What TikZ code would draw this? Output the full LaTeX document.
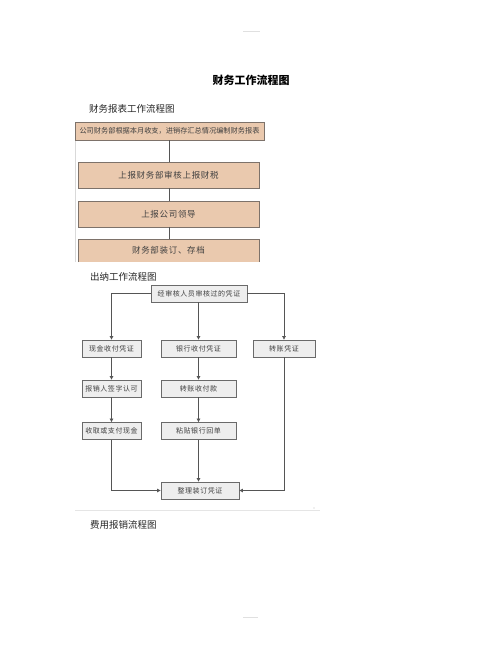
\documentclass[tikz,border=0pt]{standalone}
\usepackage{fontspec}
\setmainfont{Noto Sans CJK SC}
\newfontfamily\cjk{Noto Sans CJK SC}
\newfontfamily\cjkwide{Noto Sans CJK SC}[LetterSpace=8]
\usetikzlibrary{arrows.meta}
\definecolor{tanfill}{HTML}{EAC9AE}
\definecolor{tanline}{HTML}{7D726A}
\definecolor{grayfill}{HTML}{EEEEEE}
\definecolor{grayline}{HTML}{6A6A6A}
\definecolor{conn}{HTML}{555555}
\tikzset{
  tanbox/.style={draw=tanline, fill=tanfill, line width=0.8pt, inner sep=0pt, font=\cjkwide\fontsize{8.5}{9}\selectfont, text=black!75},
  graybox/.style={draw=grayline, fill=grayfill, line width=0.8pt, inner sep=0pt, font=\cjkwide\fontsize{7}{8}\selectfont, text=black!75},
  plain/.style={draw=conn, line width=0.7pt},
  arr/.style={draw=conn, line width=0.7pt, -{Triangle[length=3.5pt,width=3.5pt]}},
  sectlabel/.style={anchor=west, inner sep=0pt, font=\cjk\fontsize{9.5}{10}\selectfont, text=black!85},
}
\begin{document}
\begin{tikzpicture}[x=1pt,y=-1pt]
\useasboundingbox[fill=white] (0,0) rectangle (502,649);
% faint page marks
\draw[black!12, line width=0.5pt] (243,31) -- (260,31);
\draw[black!12, line width=0.5pt] (243,617) -- (258,617);
% title
\node[font=\cjk\bfseries\fontsize{11}{12}\selectfont, inner sep=0pt] (title) at (251,80) {财务工作流程图};
% section 1
\node[sectlabel] (lab1) at (89,109) {财务报表工作流程图};
\draw[black!15, line width=0.5pt] (75,140) -- (75,262);
\node[tanbox, minimum width=189pt, minimum height=18pt, font=\cjk\fontsize{7.2}{8}\selectfont] (b1) at (169.5,131) {公司财务部根据本月收支，进销存汇总情况编制财务报表};
\node[tanbox, minimum width=181pt, minimum height=26pt] (b2) at (168.5,175) {上报财务部审核上报财税};
\node[tanbox, minimum width=181pt, minimum height=26pt] (b3) at (168.5,214) {上报公司领导};
\fill[tanfill] (78,239) rectangle (259,262);
\draw[tanline, line width=0.8pt] (78,262) -- (78,239) -- (259,239) -- (259,262);
\node[font=\cjkwide\fontsize{8.5}{9}\selectfont, text=black!75, inner sep=0pt] (b4) at (168.5,250) {财务部装订、存档};
\draw[plain] (b1.south -| 169,0) -- (b2.north -| 169,0);
\draw[plain] (b2.south -| 169,0) -- (b3.north -| 169,0);
\coordinate (b4top) at (169,239);
\draw[plain] (b3.south -| 169,0) -- (b4top);
% section 2
\node[sectlabel] (lab2) at (90,277) {出纳工作流程图};
\node[graybox, minimum width=96pt, minimum height=17pt] (t) at (199,293.5) {经审核人员审核过的凭证};
\node[graybox, minimum width=59pt, minimum height=17pt] (c1) at (111.5,348.5) {现金收付凭证};
\node[graybox, minimum width=75pt, minimum height=17pt] (c2) at (198.5,348.5) {银行收付凭证};
\node[graybox, minimum width=62pt, minimum height=17pt] (c3) at (284,348.5) {转账凭证};
\node[graybox, minimum width=59pt, minimum height=17pt] (d1) at (111.5,388.5) {报销人签字认可};
\node[graybox, minimum width=75pt, minimum height=17pt] (d2) at (198.5,388.5) {转账收付款};
\node[graybox, minimum width=59pt, minimum height=17pt] (e1) at (111.5,431) {收取或支付现金};
\node[graybox, minimum width=75pt, minimum height=17pt] (e2) at (198.5,431) {粘贴银行回单};
\node[graybox, minimum width=78pt, minimum height=17pt] (f) at (200,490.5) {整理装订凭证};
% connectors
\draw[arr] (t.west) -| (c1.north);
\draw[arr] (t.east) -| (c3.north);
\draw[arr] (t.south -| c2.north) -- (c2.north);
\draw[arr] (c1) -- (d1);
\draw[arr] (c2) -- (d2);
\draw[arr] (d1) -- (e1);
\draw[arr] (d2) -- (e2);
\draw[arr] (e2.south) -- (e2.south |- f.north);
\draw[arr] (e1.south) |- (f.west);
\draw[arr] (c3.south) |- (f.east);
% faint image edge
\draw[black!10, line width=0.5pt] (75,510) -- (320,510);
\fill[black!25] (314,508) circle (0.6pt);
% section 3
\node[sectlabel] (lab3) at (90,525) {费用报销流程图};
\end{tikzpicture}
\end{document}
